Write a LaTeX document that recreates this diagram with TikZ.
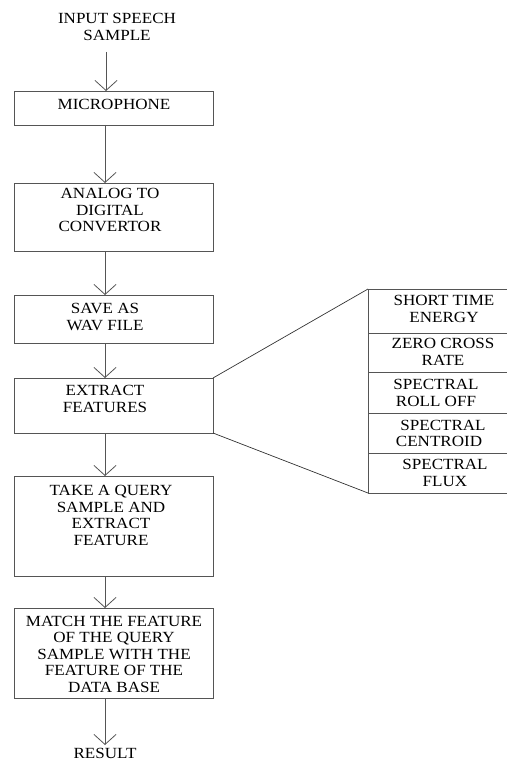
\documentclass[tikz,border=0pt]{standalone}
\usepackage{fontspec}
\setmainfont{Liberation Serif}[FakeStretch=1.1]
\usetikzlibrary{arrows.meta}
\definecolor{ln}{HTML}{555555}
\tikzset{
  box/.style={draw=ln, line width=0.9pt, inner sep=0pt, outer sep=0pt},
  txt/.style={align=center, inner sep=0pt, font=\fontsize{15.5pt}{16.5pt}\selectfont},
  flow/.style={draw=ln, line width=0.9pt, -{Straight Barb[length=10pt,width=22pt,line width=0.8pt]}},
  link/.style={draw=black!80, line width=0.7pt}
}
\begin{document}
\begin{tikzpicture}[x=1pt,y=-1pt]
\useasboundingbox (0,0) rectangle (506,762);
% main boxes
\node[box, minimum width=199pt, minimum height=34pt] (mic) at (113.5,108) {};
\node[box, minimum width=199pt, minimum height=68pt] (adc) at (113.5,217) {};
\node[box, minimum width=199pt, minimum height=48pt] (wav) at (113.5,319) {};
\node[box, minimum width=199pt, minimum height=55pt] (ext) at (113.5,405.5) {};
\node[box, minimum width=199pt, minimum height=100pt] (qry) at (113.5,526) {};
\node[box, minimum width=199pt, minimum height=90pt] (mat) at (113.5,653) {};
% texts
\node[txt] (inp) at (117,27) {INPUT SPEECH\\SAMPLE};
\node[txt] (micT) at (114,104) {MICROPHONE};
\node[txt] (adcT) at (110,210) {ANALOG TO\\DIGITAL\\CONVERTOR};
\node[txt] (wavT) at (105,317) {SAVE AS\\WAV FILE};
\node[txt] (extT) at (105,399) {EXTRACT\\FEATURES};
\node[txt] (qryT) at (111,515.5) {TAKE A QUERY\\SAMPLE AND\\EXTRACT\\FEATURE};
\node[txt] (matT) at (114,654) {MATCH THE FEATURE\\OF THE QUERY\\SAMPLE WITH THE\\FEATURE OF THE\\DATA BASE};
\node[txt] (res) at (105,753.5) {RESULT};
% arrows
\coordinate (ax) at (105,0);
\coordinate (top) at (106,52);
\coordinate (bot) at (105,745);
\draw[flow] (top) -- (top |- mic.north);
\draw[flow] (ax |- mic.south) -- (ax |- adc.north);
\draw[flow] (ax |- adc.south) -- (ax |- wav.north);
\draw[flow] (ax |- wav.south) -- (ax |- ext.north);
\draw[flow] (ax |- ext.south) -- (ax |- qry.north);
\draw[flow] (ax |- qry.south) -- (ax |- mat.north);
\draw[flow] (ax |- mat.south) -- (bot);
% feature panel
\node[box, minimum width=142pt, minimum height=44pt, anchor=north west] (f1) at (368,289) {};
\node[box, minimum width=142pt, minimum height=39pt, anchor=north west] (f2) at (f1.south west) {};
\node[box, minimum width=142pt, minimum height=41pt, anchor=north west] (f3) at (f2.south west) {};
\node[box, minimum width=142pt, minimum height=40pt, anchor=north west] (f4) at (f3.south west) {};
\node[box, minimum width=142pt, minimum height=40pt, anchor=north west] (f5) at (f4.south west) {};
\node[txt] (f1T) at (444,309) {SHORT TIME\\ENERGY};
\node[txt] (f2T) at (443,352) {ZERO CROSS\\RATE};
\node[txt] (f3T) at (436,393) {SPECTRAL\\ROLL OFF};
\node[txt] (f4T) at (439,433.5) {\hspace*{8pt}SPECTRAL\\CENTROID};
\node[txt] (f5T) at (445,473) {SPECTRAL\\FLUX};
\draw[link] (ext.north east) -- (f1.north west);
\draw[link] (ext.south east) -- (f5.south west);
\end{tikzpicture}
\end{document}
